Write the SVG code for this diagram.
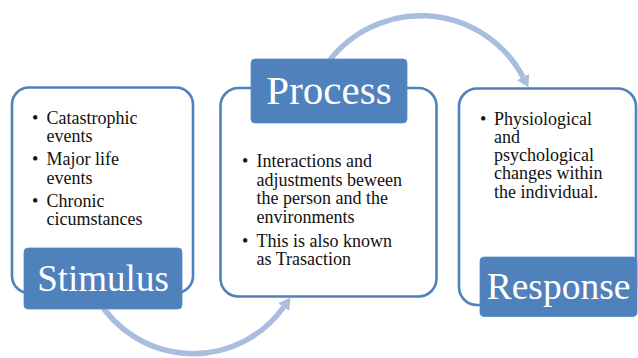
<svg xmlns="http://www.w3.org/2000/svg" width="638" height="358" viewBox="0 0 638 358">
  <style>
    .frame { fill: #ffffff; stroke: #4f81bd; stroke-width: 2.6; }
    .tag { fill: #4f81bd; stroke: #5b8bc4; stroke-width: 0.8; }
    .tagText { fill: #ffffff; text-anchor: middle; }
    .body { fill: #111111; font-size: 18px; }
    .flow { fill: none; stroke: #a9bde0; stroke-width: 5.5; }
  </style>
  <defs>
    <marker id="head" markerUnits="userSpaceOnUse" viewBox="0 -7 12 14" refX="0" refY="0" markerWidth="12" markerHeight="14" orient="auto">
      <path d="M0,-6.8 L11.5,0 L0,6.8 Z" fill="#a9bde0"/>
    </marker>
  </defs>

  <!-- curved arrows linking the three stages -->
  <g id="connectors">
    <path class="flow" d="M323,70 A115.5,115.5 0 0 1 523,77" marker-end="url(#head)"/>
    <path class="flow" d="M98,300 A111.2,111.2 0 0 0 283.7,307" marker-end="url(#head)"/>
  </g>

  <g id="stimulus" font-family="'Liberation Serif', 'Times New Roman', serif">
    <rect class="frame" x="12" y="87.5" width="181" height="205.5" rx="17"/>
    <text class="body" font-family="'Liberation Serif', 'Times New Roman', serif">
      <tspan x="32" y="123.5">•</tspan><tspan x="46.5" y="123.5">Catastrophic</tspan>
      <tspan x="46.5" y="142">events</tspan>
      <tspan x="32" y="164.5">•</tspan><tspan x="46.5" y="164.5">Major life</tspan>
      <tspan x="46.5" y="183.5">events</tspan>
      <tspan x="32" y="206.5">•</tspan><tspan x="46.5" y="206.5">Chronic</tspan>
      <tspan x="46.5" y="225">cicumstances</tspan>
    </text>
    <rect class="tag" x="24" y="248" width="158" height="61" rx="4"/>
    <text class="tagText" x="103" y="290.5" font-size="37" font-family="'Liberation Serif', 'Times New Roman', serif">Stimulus</text>
  </g>

  <g id="process" font-family="'Liberation Serif', 'Times New Roman', serif">
    <rect class="frame" x="220.5" y="88" width="216" height="208.5" rx="18"/>
    <rect class="tag" x="251" y="59" width="156" height="64" rx="4"/>
    <text class="tagText" x="329" y="103.5" font-size="41" font-family="'Liberation Serif', 'Times New Roman', serif">Process</text>
    <text class="body" font-family="'Liberation Serif', 'Times New Roman', serif">
      <tspan x="242" y="167">•</tspan><tspan x="256.5" y="167">Interactions and</tspan>
      <tspan x="256.5" y="185.5">adjustments beween</tspan>
      <tspan x="256.5" y="204">the person and the</tspan>
      <tspan x="256.5" y="222.5">environments</tspan>
      <tspan x="242" y="246.5">•</tspan><tspan x="256.5" y="246.5">This is also known</tspan>
      <tspan x="256.5" y="265">as Trasaction</tspan>
    </text>
  </g>

  <g id="response" font-family="'Liberation Serif', 'Times New Roman', serif">
    <rect class="frame" x="459" y="88.5" width="177" height="216.5" rx="18"/>
    <text class="body" font-family="'Liberation Serif', 'Times New Roman', serif">
      <tspan x="480" y="124.5">•</tspan><tspan x="494" y="124.5">Physiological</tspan>
      <tspan x="494" y="142.8">and</tspan>
      <tspan x="494" y="161">psychological</tspan>
      <tspan x="494" y="179.3">changes within</tspan>
      <tspan x="494" y="197.6">the individual.</tspan>
    </text>
    <rect class="tag" x="480" y="257" width="157" height="59.5" rx="4"/>
    <text class="tagText" x="558.5" y="298.5" font-size="37.5" font-family="'Liberation Serif', 'Times New Roman', serif">Response</text>
  </g>
</svg>
